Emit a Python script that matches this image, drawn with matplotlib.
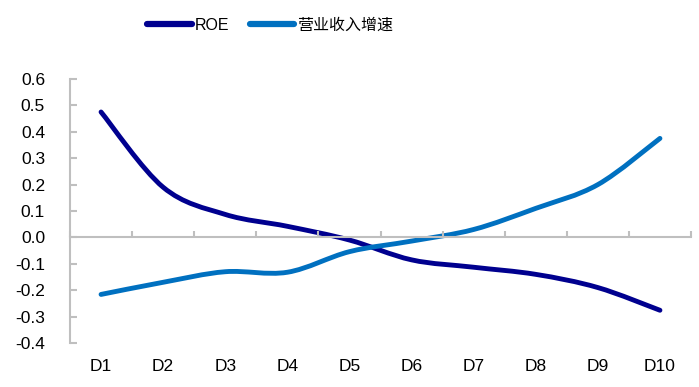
import matplotlib
matplotlib.use("Agg")
import matplotlib.pyplot as plt
import numpy as np
from matplotlib.path import Path
from matplotlib.patches import PathPatch
from matplotlib.lines import Line2D

plt.rcParams['font.family'] = ['Liberation Sans', 'Noto Sans CJK SC', 'DejaVu Sans']
plt.rcParams['axes.unicode_minus'] = False

categories = ["D1", "D2", "D3", "D4", "D5", "D6", "D7", "D8", "D9", "D10"]
roe = [0.475, 0.19, 0.087, 0.042, -0.01, -0.085, -0.113, -0.14, -0.19, -0.276]
revenue_growth = [-0.216, -0.17, -0.13, -0.132, -0.054, -0.014, 0.03, 0.11, 0.2, 0.375]
series_names = ["ROE", "营业收入增速"]
y_ticks = [-0.4, -0.3, -0.2, -0.1, 0.0, 0.1, 0.2, 0.3, 0.4, 0.5, 0.6]
y_tick_labels = ["-0.4", "-0.3", "-0.2", "-0.1", "0.0", "0.1", "0.2", "0.3", "0.4", "0.5", "0.6"]

colors = ["#00008F", "#0070C0"]
GREY = "#BFBFBF"


def smooth_path(xs, ys):
    pts = np.column_stack([xs, ys]).astype(float)
    n = len(pts)
    verts = [pts[0]]
    codes = [Path.MOVETO]
    for i in range(n - 1):
        p0 = pts[i - 1] if i > 0 else pts[i]
        p1 = pts[i]
        p2 = pts[i + 1]
        p3 = pts[i + 2] if i + 2 < n else pts[i + 1]
        c1 = p1 + (p2 - p0) / 6.0
        c2 = p2 - (p3 - p1) / 6.0
        verts += [c1, c2, p2]
        codes += [Path.CURVE4] * 3
    return Path(verts, codes)


fig = plt.figure(figsize=(6.99, 3.87), dpi=100)
ax = fig.add_axes([70 / 699, 1 - 343 / 387, 621 / 699, 264 / 387])

x = np.arange(len(categories))
for vals, c in zip([roe, revenue_growth], colors):
    patch = PathPatch(smooth_path(x, vals), facecolor="none", edgecolor=c,
                      lw=3.5, capstyle="round", joinstyle="round")
    ax.add_patch(patch)

ax.set_xlim(-0.5, len(categories) - 0.5)
ax.set_ylim(-0.4, 0.6)

for s in ["top", "right"]:
    ax.spines[s].set_visible(False)
ax.spines["left"].set_color(GREY)
ax.spines["left"].set_linewidth(1.5)
ax.spines["bottom"].set_color(GREY)
ax.spines["bottom"].set_linewidth(1.5)
ax.spines["bottom"].set_position(("data", 0))

ax.set_yticks(y_ticks)
ax.set_yticklabels(y_tick_labels)
ax.tick_params(axis="y", direction="in", length=5, width=1.5, color=GREY,
               pad=18, labelsize=12.5, labelcolor="#000000")

boundaries = np.arange(len(categories) + 1) - 0.5
ax.set_xticks(boundaries)
ax.set_xticklabels([])
ax.tick_params(axis="x", direction="in", length=4, width=1.5, color=GREY)

for xi, lab in zip(x, categories):
    ax.text(xi, -0.09, lab, transform=ax.get_xaxis_transform(), ha="center",
            va="center", fontsize=12.5, color="#000000")

handles = [Line2D([], [], color=c, lw=4.5, solid_capstyle="round") for c in colors]
fig.legend(handles, series_names, loc="center", bbox_to_anchor=(270 / 699, 1 - 25 / 387),
           ncol=2, frameon=False, fontsize=11.5, handlelength=2.8, handletextpad=0.15,
           columnspacing=1.3)

fig.savefig("out.png", dpi=100)
